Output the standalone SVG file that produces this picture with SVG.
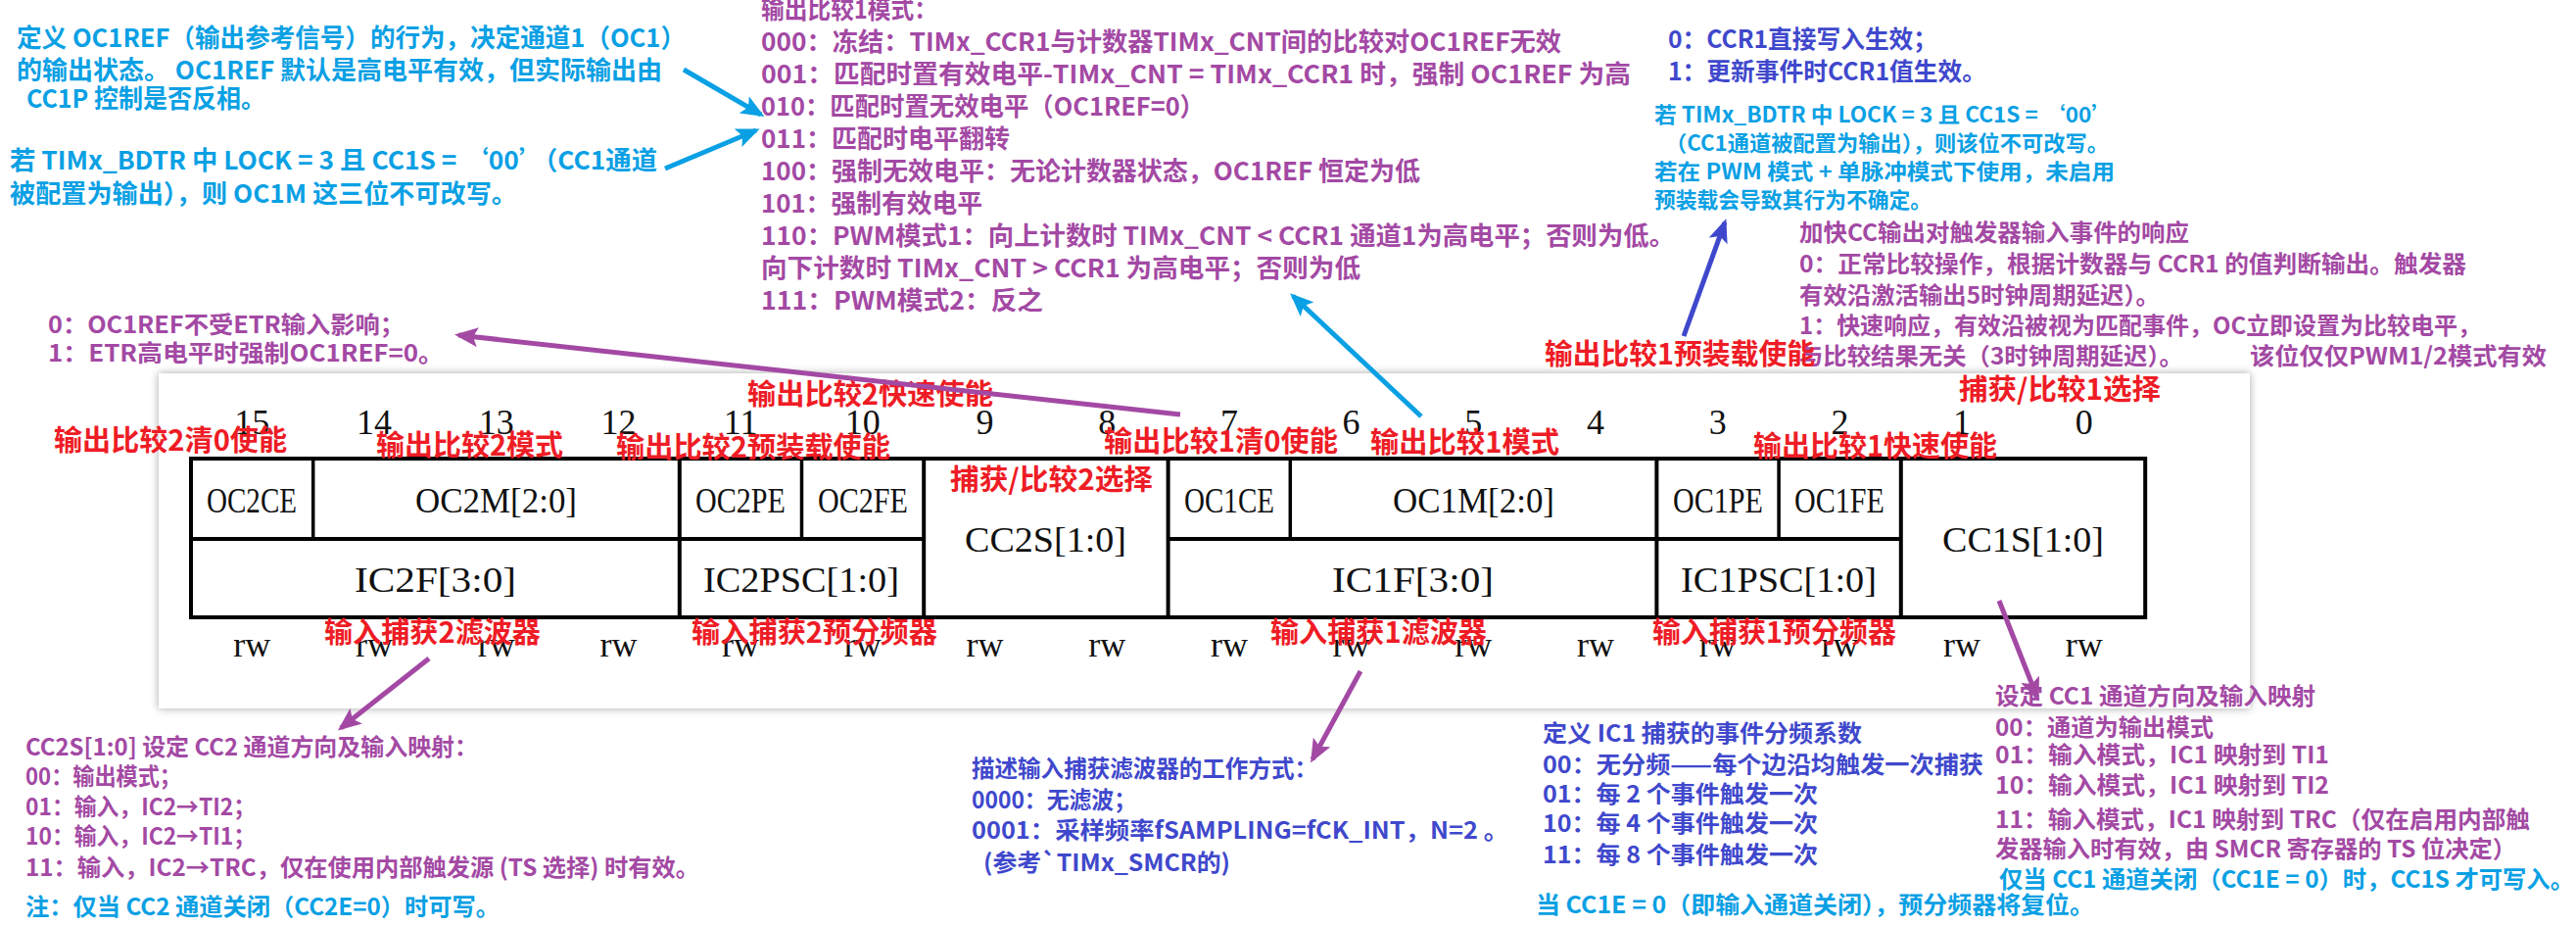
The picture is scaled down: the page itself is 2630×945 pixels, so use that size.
<svg xmlns="http://www.w3.org/2000/svg" width="2630" height="945" viewBox="0 0 2630 945">
<defs>
<style>
.t{font-family:"Noto Sans CJK SC","Noto Sans",sans-serif;font-weight:bold;}
.cy{fill:#0AA0E4;font-size:26px;}
.cys{fill:#0AA0E4;font-size:22px;}
.cyn{fill:#0AA0E4;font-size:24px;}
.pu{fill:#A349A4;font-size:26px;}
.pus{fill:#A349A4;font-size:24px;}
.in{fill:#3F48CC;font-size:25px;}
.ins{fill:#3F48CC;font-size:24px;}
.rd{fill:#EE1C25;font-size:29px;}
.s{font-family:"Liberation Serif","Times New Roman",serif;fill:#111;font-size:36px;}
.bn{text-anchor:middle;}
.grid{stroke:#000;fill:none;stroke-width:4;}
.thin{stroke:#000;stroke-width:3.5;}
.acy{stroke:#0AA0E4;stroke-width:5;fill:none;}
.apu{stroke:#A349A4;stroke-width:5;fill:none;}
.ain{stroke:#3F48CC;stroke-width:5;fill:none;}
</style>
<marker id="mcy" viewBox="0 0 24 20" refX="20" refY="10" markerWidth="24" markerHeight="20" markerUnits="userSpaceOnUse" orient="auto"><path d="M0,0 L24,10 L0,20 L5,10 z" fill="#0AA0E4"/></marker>
<marker id="mpu" viewBox="0 0 24 20" refX="20" refY="10" markerWidth="24" markerHeight="20" markerUnits="userSpaceOnUse" orient="auto"><path d="M0,0 L24,10 L0,20 L5,10 z" fill="#A349A4"/></marker>
<marker id="min" viewBox="0 0 24 20" refX="20" refY="10" markerWidth="24" markerHeight="20" markerUnits="userSpaceOnUse" orient="auto"><path d="M0,0 L24,10 L0,20 L5,10 z" fill="#3F48CC"/></marker>
<filter id="sh" x="-3%" y="-10%" width="106%" height="120%"><feDropShadow dx="0" dy="0" stdDeviation="4" flood-color="#000" flood-opacity="0.35"/></filter>
</defs>
<rect width="2630" height="945" fill="#fff"/>

<g id="register-panel">
<rect x="162" y="381" width="2135" height="342" fill="#fff" filter="url(#sh)"/>
<g id="bit-numbers" class="s bn">
<text x="257.3" y="443">15</text><text x="382" y="443">14</text><text x="506.7" y="443">13</text><text x="631.4" y="443">12</text>
<text x="756.1" y="443">11</text><text x="880.8" y="443">10</text><text x="1005.5" y="443">9</text><text x="1130.2" y="443">8</text>
<text x="1254.9" y="443">7</text><text x="1379.6" y="443">6</text><text x="1504.3" y="443">5</text><text x="1629" y="443">4</text>
<text x="1753.7" y="443">3</text><text x="1878.4" y="443">2</text><text x="2003.1" y="443">1</text><text x="2127.8" y="443">0</text>
</g>
<g id="register-grid">
<rect class="grid" x="195" y="468" width="1995.2" height="162"/>
<line class="grid" x1="195" y1="550" x2="943.2" y2="550"/>
<line class="grid" x1="1192.6" y1="550" x2="1940.8" y2="550"/>
<line class="thin" x1="319.7" y1="468" x2="319.7" y2="550"/>
<line class="grid" x1="693.8" y1="468" x2="693.8" y2="630"/>
<line class="thin" x1="818.5" y1="468" x2="818.5" y2="550"/>
<line class="grid" x1="943.2" y1="468" x2="943.2" y2="630"/>
<line class="grid" x1="1192.6" y1="468" x2="1192.6" y2="630"/>
<line class="thin" x1="1317.3" y1="468" x2="1317.3" y2="550"/>
<line class="grid" x1="1691.4" y1="468" x2="1691.4" y2="630"/>
<line class="thin" x1="1816.1" y1="468" x2="1816.1" y2="550"/>
<line class="grid" x1="1940.8" y1="468" x2="1940.8" y2="630"/>
</g>
<g id="field-OC2CE"><text class="s" x="211" y="523" textLength="92" lengthAdjust="spacingAndGlyphs">OC2CE</text></g>
<g id="field-OC2M"><text class="s" x="424" y="523" textLength="165" lengthAdjust="spacingAndGlyphs">OC2M[2:0]</text></g>
<g id="field-OC2PE"><text class="s" x="710" y="523" textLength="92" lengthAdjust="spacingAndGlyphs">OC2PE</text></g>
<g id="field-OC2FE"><text class="s" x="835" y="523" textLength="92" lengthAdjust="spacingAndGlyphs">OC2FE</text></g>
<g id="field-CC2S"><text class="s" x="985" y="563" textLength="165" lengthAdjust="spacingAndGlyphs">CC2S[1:0]</text></g>
<g id="field-OC1CE"><text class="s" x="1209" y="523" textLength="92" lengthAdjust="spacingAndGlyphs">OC1CE</text></g>
<g id="field-OC1M"><text class="s" x="1422" y="523" textLength="165" lengthAdjust="spacingAndGlyphs">OC1M[2:0]</text></g>
<g id="field-OC1PE"><text class="s" x="1708" y="523" textLength="92" lengthAdjust="spacingAndGlyphs">OC1PE</text></g>
<g id="field-OC1FE"><text class="s" x="1832" y="523" textLength="92" lengthAdjust="spacingAndGlyphs">OC1FE</text></g>
<g id="field-CC1S"><text class="s" x="1983" y="563" textLength="165" lengthAdjust="spacingAndGlyphs">CC1S[1:0]</text></g>
<g id="field-IC2F"><text class="s" x="362" y="604" textLength="165" lengthAdjust="spacingAndGlyphs">IC2F[3:0]</text></g>
<g id="field-IC2PSC"><text class="s" x="718" y="604" textLength="200" lengthAdjust="spacingAndGlyphs">IC2PSC[1:0]</text></g>
<g id="field-IC1F"><text class="s" x="1360" y="604" textLength="165" lengthAdjust="spacingAndGlyphs">IC1F[3:0]</text></g>
<g id="field-IC1PSC"><text class="s" x="1716" y="604" textLength="200" lengthAdjust="spacingAndGlyphs">IC1PSC[1:0]</text></g>
<g id="access-rw" class="s bn">
<text x="257.3" y="670">rw</text><text x="382" y="670">rw</text><text x="506.7" y="670">rw</text><text x="631.4" y="670">rw</text>
<text x="756.1" y="670">rw</text><text x="880.8" y="670">rw</text><text x="1005.5" y="670">rw</text><text x="1130.2" y="670">rw</text>
<text x="1254.9" y="670">rw</text><text x="1379.6" y="670">rw</text><text x="1504.3" y="670">rw</text><text x="1629" y="670">rw</text>
<text x="1753.7" y="670">rw</text><text x="1878.4" y="670">rw</text><text x="2003.1" y="670">rw</text><text x="2127.8" y="670">rw</text>
</g>
</g>

<g id="note-oc1ref" class="t cy">
<text x="17" y="48" textLength="683" lengthAdjust="spacingAndGlyphs">定义 OC1REF（输出参考信号）的行为，决定通道1（OC1）</text>
<text x="17" y="81" textLength="659" lengthAdjust="spacingAndGlyphs">的输出状态。 OC1REF 默认是高电平有效，但实际输出由</text>
<text x="27" y="110" textLength="244" lengthAdjust="spacingAndGlyphs">CC1P 控制是否反相。</text>
<text x="10" y="173" textLength="661" lengthAdjust="spacingAndGlyphs">若 TIMx_BDTR 中 LOCK = 3 且 CC1S = ‘00’（CC1通道</text>
<text x="10" y="207" textLength="518" lengthAdjust="spacingAndGlyphs">被配置为输出），则 OC1M 这三位不可改写。</text>
</g>

<g id="note-oc1m-modes" class="t pu">
<text x="777" y="19" textLength="180" lengthAdjust="spacingAndGlyphs">输出比较1模式：</text>
<text x="777" y="52" textLength="817" lengthAdjust="spacingAndGlyphs">000：冻结：TIMx_CCR1与计数器TIMx_CNT间的比较对OC1REF无效</text>
<text x="777" y="85" textLength="888" lengthAdjust="spacingAndGlyphs">001：匹配时置有效电平-TIMx_CNT = TIMx_CCR1 时，强制 OC1REF 为高</text>
<text x="777" y="118" textLength="453" lengthAdjust="spacingAndGlyphs">010：匹配时置无效电平（OC1REF=0）</text>
<text x="777" y="151" textLength="254" lengthAdjust="spacingAndGlyphs">011：匹配时电平翻转</text>
<text x="777" y="184" textLength="673" lengthAdjust="spacingAndGlyphs">100：强制无效电平：无论计数器状态，OC1REF 恒定为低</text>
<text x="777" y="217" textLength="226" lengthAdjust="spacingAndGlyphs">101：强制有效电平</text>
<text x="777" y="250" textLength="933" lengthAdjust="spacingAndGlyphs">110：PWM模式1：向上计数时 TIMx_CNT &lt; CCR1 通道1为高电平；否则为低。</text>
<text x="777" y="283" textLength="612" lengthAdjust="spacingAndGlyphs">向下计数时 TIMx_CNT &gt; CCR1 为高电平；否则为低</text>
<text x="777" y="316" textLength="288" lengthAdjust="spacingAndGlyphs">111：PWM模式2：反之</text>
</g>

<g id="note-oc1pe-values" class="t in">
<text x="1703" y="49" textLength="275" lengthAdjust="spacingAndGlyphs">0：CCR1直接写入生效；</text>
<text x="1703" y="82" textLength="325" lengthAdjust="spacingAndGlyphs">1：更新事件时CCR1值生效。</text>
</g>

<g id="note-oc1pe-lock" class="t cys">
<text x="1689" y="125" textLength="469" lengthAdjust="spacingAndGlyphs">若 TIMx_BDTR 中 LOCK = 3 且 CC1S = ‘00’</text>
<text x="1700" y="154" textLength="453" lengthAdjust="spacingAndGlyphs">（CC1通道被配置为输出），则该位不可改写。</text>
<text x="1689" y="183" textLength="470" lengthAdjust="spacingAndGlyphs">若在 PWM 模式 + 单脉冲模式下使用，未启用</text>
<text x="1689" y="212" textLength="283" lengthAdjust="spacingAndGlyphs">预装载会导致其行为不确定。</text>
</g>

<g id="note-oc1fe" class="t pus">
<text x="1837" y="246" textLength="398" lengthAdjust="spacingAndGlyphs">加快CC输出对触发器输入事件的响应</text>
<text x="1837" y="278" textLength="681" lengthAdjust="spacingAndGlyphs">0：正常比较操作，根据计数器与 CCR1 的值判断输出。触发器</text>
<text x="1837" y="310" textLength="368" lengthAdjust="spacingAndGlyphs">有效沿激活输出5时钟周期延迟）。</text>
<text x="1837" y="341" textLength="696" lengthAdjust="spacingAndGlyphs">1：快速响应，有效沿被视为匹配事件，OC立即设置为比较电平，</text>
<text x="1837" y="372" textLength="392" lengthAdjust="spacingAndGlyphs">与比较结果无关（3时钟周期延迟）。</text>
<text x="2297" y="372" textLength="303" lengthAdjust="spacingAndGlyphs">该位仅仅PWM1/2模式有效</text>
</g>

<g id="note-oc2ce" class="t pus">
<text x="49" y="340" textLength="364" lengthAdjust="spacingAndGlyphs">0：OC1REF不受ETR输入影响；</text>
<text x="49" y="369" textLength="404" lengthAdjust="spacingAndGlyphs">1：ETR高电平时强制OC1REF=0。</text>
</g>

<g id="note-cc2s" class="t pus">
<text x="26" y="771" textLength="462" lengthAdjust="spacingAndGlyphs">CC2S[1:0] 设定 CC2 通道方向及输入映射：</text>
<text x="26" y="801" textLength="159" lengthAdjust="spacingAndGlyphs">00：输出模式；</text>
<text x="26" y="832" textLength="235" lengthAdjust="spacingAndGlyphs">01：输入，IC2→TI2；</text>
<text x="26" y="862" textLength="235" lengthAdjust="spacingAndGlyphs">10：输入，IC2→TI1；</text>
<text x="26" y="894" textLength="688" lengthAdjust="spacingAndGlyphs">11：输入，IC2→TRC，仅在使用内部触发源 (TS 选择) 时有效。</text>
<text class="cyn" x="26" y="934" textLength="484" lengthAdjust="spacingAndGlyphs">注：仅当 CC2 通道关闭（CC2E=0）时可写。</text>
</g>

<g id="note-ic1f" class="t ins">
<text x="992" y="793" textLength="353" lengthAdjust="spacingAndGlyphs">描述输入捕获滤波器的工作方式：</text>
<text x="992" y="825" textLength="168" lengthAdjust="spacingAndGlyphs">0000：无滤波；</text>
<text x="992" y="856" textLength="548" lengthAdjust="spacingAndGlyphs">0001：采样频率fSAMPLING=fCK_INT，N=2 。</text>
<text x="1004" y="889" textLength="252" lengthAdjust="spacingAndGlyphs">(参考`TIMx_SMCR的)</text>
</g>

<g id="note-ic1psc" class="t ins">
<text x="1575" y="757" textLength="326" lengthAdjust="spacingAndGlyphs">定义 IC1 捕获的事件分频系数</text>
<text x="1575" y="789" textLength="450" lengthAdjust="spacingAndGlyphs">00：无分频——每个边沿均触发一次捕获</text>
<text x="1575" y="819" textLength="281" lengthAdjust="spacingAndGlyphs">01：每 2 个事件触发一次</text>
<text x="1575" y="849" textLength="281" lengthAdjust="spacingAndGlyphs">10：每 4 个事件触发一次</text>
<text x="1575" y="881" textLength="281" lengthAdjust="spacingAndGlyphs">11：每 8 个事件触发一次</text>
<text class="cyn" x="1568" y="932" textLength="570" lengthAdjust="spacingAndGlyphs">当 CC1E = 0（即输入通道关闭），预分频器将复位。</text>
</g>

<g id="note-cc1s" class="t pus">
<text x="2037" y="719" textLength="327" lengthAdjust="spacingAndGlyphs">设定 CC1 通道方向及输入映射</text>
<text x="2037" y="751" textLength="223" lengthAdjust="spacingAndGlyphs">00：通道为输出模式</text>
<text x="2037" y="779" textLength="341" lengthAdjust="spacingAndGlyphs">01：输入模式，IC1 映射到 TI1</text>
<text x="2037" y="810" textLength="341" lengthAdjust="spacingAndGlyphs">10：输入模式，IC1 映射到 TI2</text>
<text x="2037" y="845" textLength="546" lengthAdjust="spacingAndGlyphs">11：输入模式，IC1 映射到 TRC（仅在启用内部触</text>
<text x="2037" y="875" textLength="532" lengthAdjust="spacingAndGlyphs">发器输入时有效，由 SMCR 寄存器的 TS 位决定）</text>
<text class="cyn" x="2041" y="906" textLength="587" lengthAdjust="spacingAndGlyphs">仅当 CC1 通道关闭（CC1E = 0）时，CC1S 才可写入。</text>
</g>

<g id="field-labels" class="t rd">
<text id="lbl-oc2fe" x="763" y="413" textLength="251" lengthAdjust="spacingAndGlyphs">输出比较2快速使能</text>
<text id="lbl-oc2ce" x="55" y="460" textLength="238" lengthAdjust="spacingAndGlyphs">输出比较2清0使能</text>
<text id="lbl-oc2m" x="384" y="465" textLength="191" lengthAdjust="spacingAndGlyphs">输出比较2模式</text>
<text id="lbl-oc2pe" x="629" y="467" textLength="280" lengthAdjust="spacingAndGlyphs">输出比较2预装载使能</text>
<text id="lbl-cc2s" x="970" y="500" textLength="207" lengthAdjust="spacingAndGlyphs">捕获/比较2选择</text>
<text id="lbl-oc1ce" x="1127" y="461" textLength="239" lengthAdjust="spacingAndGlyphs">输出比较1清0使能</text>
<text id="lbl-oc1m" x="1399" y="462" textLength="193" lengthAdjust="spacingAndGlyphs">输出比较1模式</text>
<text id="lbl-oc1pe" x="1577" y="372" textLength="276" lengthAdjust="spacingAndGlyphs">输出比较1预装载使能</text>
<text id="lbl-cc1s" x="2000" y="408" textLength="206" lengthAdjust="spacingAndGlyphs">捕获/比较1选择</text>
<text id="lbl-oc1fe" x="1790" y="466" textLength="249" lengthAdjust="spacingAndGlyphs">输出比较1快速使能</text>
<text id="lbl-ic2f" x="331" y="656" textLength="221" lengthAdjust="spacingAndGlyphs">输入捕获2滤波器</text>
<text id="lbl-ic2psc" x="706" y="656" textLength="251" lengthAdjust="spacingAndGlyphs">输入捕获2预分频器</text>
<text id="lbl-ic1f" x="1297" y="656" textLength="221" lengthAdjust="spacingAndGlyphs">输入捕获1滤波器</text>
<text id="lbl-ic1psc" x="1687" y="656" textLength="249" lengthAdjust="spacingAndGlyphs">输入捕获1预分频器</text>
</g>

<g id="connectors">
<line class="acy" x1="698" y1="71" x2="777" y2="117" marker-end="url(#mcy)"/>
<line class="acy" x1="679" y1="172" x2="772" y2="133" marker-end="url(#mcy)"/>
<line class="acy" x1="1451" y1="425" x2="1320" y2="302" marker-end="url(#mcy)"/>
<line class="ain" x1="1719" y1="343" x2="1761" y2="227" marker-end="url(#min)"/>
<line class="apu" x1="1205" y1="423" x2="468" y2="342" marker-end="url(#mpu)"/>
<line class="apu" x1="438" y1="672" x2="348" y2="743" marker-end="url(#mpu)"/>
<line class="apu" x1="1389" y1="685" x2="1340" y2="775" marker-end="url(#mpu)"/>
<line class="apu" x1="2041" y1="613" x2="2080" y2="712" marker-end="url(#mpu)"/>
</g>
</svg>
